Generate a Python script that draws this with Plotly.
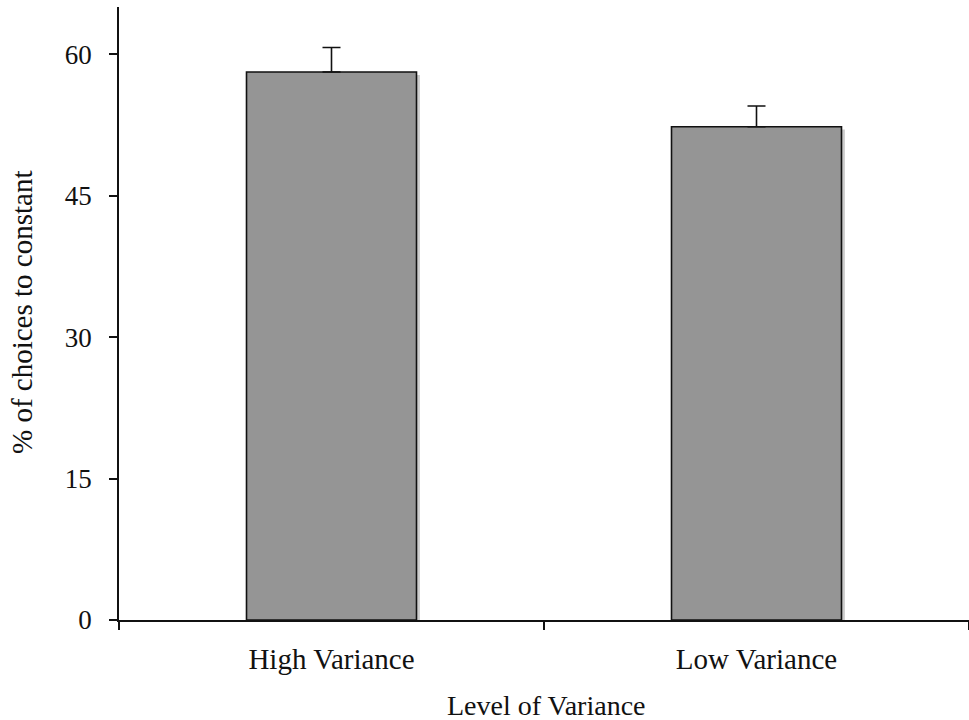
import plotly.graph_objects as go

# Data
categories = ["High Variance", "Low Variance"]
pct_constant = [58.1, 52.3]
sem_upper = [2.6, 2.2]
y_ticks = [0, 15, 30, 45, 60]

FONT = "Liberation Serif, Times New Roman, serif"
INK = "#111111"
BAR_W = 0.40

# canvas and plot-area geometry (pixels)
W, H = 969, 720
L, R, T, B = 119, 0, 7, 100
PW, PH = W - L - R, H - T - B

fig = go.Figure()

# soft drop shadow on the right edge of each bar
fig.add_trace(go.Bar(
    x=categories, y=[v - 0.3 for v in pct_constant],
    width=BAR_W, offset=-BAR_W / 2 + 0.008,
    marker=dict(color="#cccccc", line=dict(width=0)),
    hoverinfo="skip", showlegend=False,
))

# main bars with upward-only error bars
fig.add_trace(go.Bar(
    x=categories, y=pct_constant,
    width=BAR_W, offset=-BAR_W / 2,
    marker=dict(color="#959595", line=dict(color=INK, width=1.6)),
    error_y=dict(type="data", array=sem_upper, arrayminus=[0, 0],
                 symmetric=False, color=INK, thickness=1.6, width=9),
    showlegend=False,
))

fig.update_layout(
    width=W, height=H, autosize=False,
    margin=dict(l=L, r=R, t=T, b=B),
    paper_bgcolor="white", plot_bgcolor="white",
    barmode="overlay",
    font=dict(family=FONT, size=27, color=INK),
    xaxis=dict(
        type="category", range=[-0.5, 1.5],
        tickson="boundaries", ticks="outside", ticklen=8, tickwidth=1.6,
        tickcolor=INK,
        showline=True, linecolor=INK, linewidth=1.6,
        showgrid=False, zeroline=False,
        tickfont=dict(family=FONT, size=29, color=INK),
        ticklabelstandoff=12,
    ),
    yaxis=dict(
        range=[0, 65], tickvals=y_ticks,
        ticks="outside", ticklen=8, tickwidth=1.6, tickcolor=INK,
        showline=True, linecolor=INK, linewidth=1.6,
        showgrid=False, zeroline=False,
        tickfont=dict(family=FONT, size=27, color=INK),
        ticklabelstandoff=12,
    ),
    annotations=[
        dict(text="Level of Variance",
             x=(546 - L) / PW, y=(H - B - 705) / PH,
             xref="paper", yref="paper", showarrow=False,
             font=dict(family=FONT, size=28, color=INK),
             xanchor="center", yanchor="middle"),
        dict(text="% of choices to constant",
             x=(22 - L) / PW, y=(H - B - 313) / PH,
             xref="paper", yref="paper", textangle=-90, showarrow=False,
             font=dict(family=FONT, size=29, color=INK),
             xanchor="center", yanchor="middle"),
    ],
)

fig.write_html("out.html")
